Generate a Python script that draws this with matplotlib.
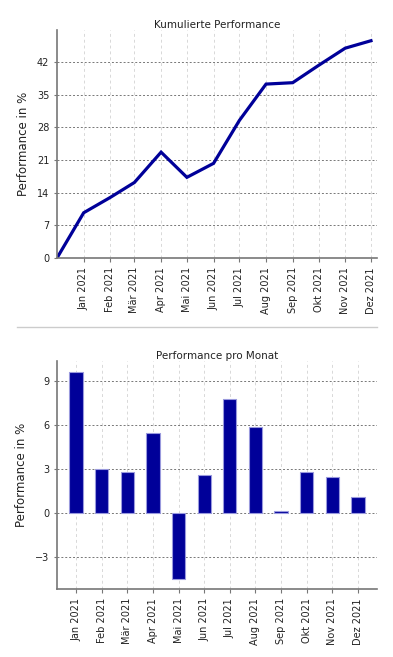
import matplotlib
matplotlib.use("Agg")
import matplotlib.pyplot as plt
from matplotlib.lines import Line2D
import numpy as np
from datetime import datetime

# data
months = ['Jan 2021', 'Feb 2021', 'Mär 2021', 'Apr 2021', 'Mai 2021', 'Jun 2021',
          'Jul 2021', 'Aug 2021', 'Sep 2021', 'Okt 2021', 'Nov 2021', 'Dez 2021']
dates = ['2020-12-01', '2021-01-01', '2021-02-01', '2021-03-01', '2021-04-01',
         '2021-05-01', '2021-06-01', '2021-07-01', '2021-08-01', '2021-09-01',
         '2021-10-01', '2021-11-01', '2021-12-01']
cumulative = [0, 9.7, 13.0, 16.2, 22.7, 17.3, 20.3, 29.5, 37.3, 37.6, 41.3, 45.0, 46.6]
monthly = [9.64, 3.05, 2.8, 5.51, -4.47, 2.62, 7.77, 5.86, 0.18, 2.8, 2.46, 1.09]

W, H = 393, 657
fig = plt.figure(figsize=(W / 100, H / 100), dpi=100)

gray = '#777777'


def style(ax):
    for s in ['top', 'right']:
        ax.spines[s].set_visible(False)
    for s in ['left', 'bottom']:
        ax.spines[s].set_color(gray)
        ax.spines[s].set_linewidth(1.2)
    ax.tick_params(axis='both', colors=gray, labelcolor='#222222', labelsize=7,
                   length=3, width=0.8)
    ax.tick_params(axis='y', length=2)
    ax.yaxis.grid(True, color='#777777', linestyle=(0, (2, 2)), linewidth=0.7)
    ax.xaxis.grid(True, color='#d8d8d8', linestyle=(0, (3, 3)), linewidth=0.7)
    ax.set_axisbelow(True)
    ax.set_ylabel('Performance in %', fontsize=8.5, color='#222222', labelpad=5)


# top: cumulative performance
ax1 = fig.add_axes([57 / W, 1 - 258 / H, 320 / W, 228 / H])
x = [datetime.strptime(d, '%Y-%m-%d') for d in dates]
ax1.plot(x, cumulative, color='#000099', linewidth=2.3, solid_joinstyle='miter')
ax1.set_xlim(x[0], datetime(2021, 12, 8))
ax1.set_ylim(0, 48.9)
ax1.set_yticks([0, 7, 14, 21, 28, 35, 42])
ax1.set_xticks(x[1:])
ax1.set_xticklabels(months, rotation=90)
ax1.set_title('Kumulierte Performance', fontsize=7.5, color='#222222', pad=1.5)
style(ax1)

# bottom: monthly performance
ax2 = fig.add_axes([57 / W, 1 - 589 / H, 320 / W, 228 / H])
pos = np.arange(len(months))
ax2.bar(pos, monthly, width=0.52, color='#000099', edgecolor='#9999dd', linewidth=0.8)
ax2.set_xlim(-0.74, len(months) - 1 + 0.74)
ax2.set_ylim(-5.17, 10.39)
ax2.set_yticks([-3, 0, 3, 6, 9])
ax2.set_xticks(pos)
ax2.set_xticklabels(months, rotation=90)
ax2.set_title('Performance pro Monat', fontsize=7.5, color='#222222', pad=1.5)
style(ax2)

# separator between the two charts
fig.add_artist(Line2D([17 / W, 377 / W], [1 - 327 / H, 1 - 327 / H],
                      color='#cccccc', linewidth=1))

fig.savefig('out.png', dpi=100)
